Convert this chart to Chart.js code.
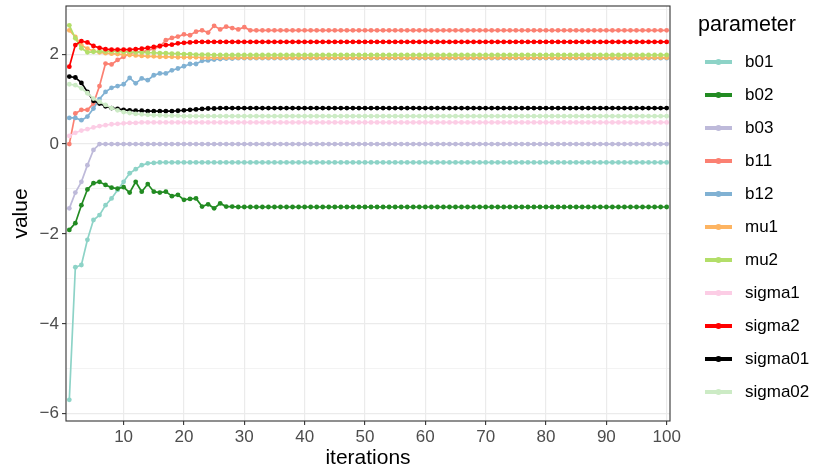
<!DOCTYPE html>
<html><head><meta charset="utf-8">
<script src="https://cdn.jsdelivr.net/npm/chart.js@4.4.1/dist/chart.umd.min.js"></script>
<style>html,body{margin:0;padding:0;background:#fff}#wrap{width:813px;height:470px}</style>
</head><body><div id="wrap"><canvas id="c" width="813" height="470"></canvas></div>
<script>
const iterations = [1,2,3,4,5,6,7,8,9,10,11,12,13,14,15,16,17,18,19,20,
21,22,23,24,25,26,27,28,29,30,31,32,33,34,35,36,37,38,39,40,
41,42,43,44,45,46,47,48,49,50,51,52,53,54,55,56,57,58,59,60,
61,62,63,64,65,66,67,68,69,70,71,72,73,74,75,76,77,78,79,80,
81,82,83,84,85,86,87,88,89,90,91,92,93,94,95,96,97,98,99,100];
const parameters = ['b01','b02','b03','b11','b12','mu1','mu2','sigma1','sigma2','sigma01','sigma02'];

const b01 = [-5.69,-2.74,-2.69,-2.13,-1.69,-1.58,-1.36,-1.21,-1.02,-0.84,
-0.65,-0.56,-0.47,-0.43,-0.42,-0.41,-0.41,-0.41,-0.41,-0.41,
-0.41,-0.41,-0.41,-0.41,-0.41,-0.41,-0.41,-0.41,-0.41,-0.41,
-0.41,-0.41,-0.41,-0.41,-0.41,-0.41,-0.41,-0.41,-0.41,-0.41,
-0.41,-0.41,-0.41,-0.41,-0.41,-0.41,-0.41,-0.41,-0.41,-0.41,
-0.41,-0.41,-0.41,-0.41,-0.41,-0.41,-0.41,-0.41,-0.41,-0.41,
-0.41,-0.41,-0.41,-0.41,-0.41,-0.41,-0.41,-0.41,-0.41,-0.41,
-0.41,-0.41,-0.41,-0.41,-0.41,-0.41,-0.41,-0.41,-0.41,-0.41,
-0.41,-0.41,-0.41,-0.41,-0.41,-0.41,-0.41,-0.41,-0.41,-0.41,
-0.41,-0.41,-0.41,-0.41,-0.41,-0.41,-0.41,-0.41,-0.41,-0.41];
const b02 = [-1.91,-1.76,-1.36,-1.01,-0.87,-0.84,-0.91,-0.97,-0.99,-0.96,
-1.08,-0.84,-1.06,-0.89,-1.06,-1.08,-1.06,-1.16,-1.13,-1.24,
-1.22,-1.21,-1.39,-1.34,-1.43,-1.32,-1.39,-1.39,-1.40,-1.40,
-1.40,-1.40,-1.40,-1.40,-1.40,-1.40,-1.40,-1.40,-1.40,-1.40,
-1.40,-1.40,-1.40,-1.40,-1.40,-1.40,-1.40,-1.40,-1.40,-1.40,
-1.40,-1.40,-1.40,-1.40,-1.40,-1.40,-1.40,-1.40,-1.40,-1.40,
-1.40,-1.40,-1.40,-1.40,-1.40,-1.40,-1.40,-1.40,-1.40,-1.40,
-1.40,-1.40,-1.40,-1.40,-1.40,-1.40,-1.40,-1.40,-1.40,-1.40,
-1.40,-1.40,-1.40,-1.40,-1.40,-1.40,-1.40,-1.40,-1.40,-1.40,
-1.40,-1.40,-1.40,-1.40,-1.40,-1.40,-1.40,-1.40,-1.40,-1.40];
const b03 = [-1.43,-1.08,-0.84,-0.47,-0.13,0,0,0,0,0,
0,0,0,0,0,0,0,0,0,0, 0,0,0,0,0,0,0,0,0,0, 0,0,0,0,0,0,0,0,0,0,
0,0,0,0,0,0,0,0,0,0, 0,0,0,0,0,0,0,0,0,0, 0,0,0,0,0,0,0,0,0,0,
0,0,0,0,0,0,0,0,0,0, 0,0,0,0,0,0,0,0,0,0, 0,0,0,0,0,0,0,0,0,0];
const b11 = [0.00,0.68,0.76,0.76,0.90,1.29,1.79,1.77,1.87,1.94,
2.01,2.05,2.05,2.08,2.12,2.17,2.31,2.36,2.39,2.44,
2.42,2.50,2.53,2.48,2.63,2.55,2.61,2.58,2.55,2.60,
2.53,2.53,2.53,2.53,2.53,2.53,2.53,2.53,2.53,2.53,
2.53,2.53,2.53,2.53,2.53,2.53,2.53,2.53,2.53,2.53,
2.53,2.53,2.53,2.53,2.53,2.53,2.53,2.53,2.53,2.53,
2.53,2.53,2.53,2.53,2.53,2.53,2.53,2.53,2.53,2.53,
2.53,2.53,2.53,2.53,2.53,2.53,2.53,2.53,2.53,2.53,
2.53,2.53,2.53,2.53,2.53,2.53,2.53,2.53,2.53,2.53,
2.53,2.53,2.53,2.53,2.53,2.53,2.53,2.53,2.53,2.53];
const b12 = [0.58,0.58,0.53,0.61,0.79,1.00,1.16,1.25,1.29,1.33,
1.47,1.35,1.46,1.42,1.53,1.57,1.57,1.64,1.68,1.73,
1.78,1.78,1.85,1.86,1.88,1.89,1.90,1.90,1.91,1.91,
1.91,1.91,1.91,1.91,1.91,1.91,1.91,1.91,1.91,1.91,
1.91,1.91,1.91,1.91,1.91,1.91,1.91,1.91,1.91,1.91,
1.91,1.91,1.91,1.91,1.91,1.91,1.91,1.91,1.91,1.91,
1.91,1.91,1.91,1.91,1.91,1.91,1.91,1.91,1.91,1.91,
1.91,1.91,1.91,1.91,1.91,1.91,1.91,1.91,1.91,1.91,
1.91,1.91,1.91,1.91,1.91,1.91,1.91,1.91,1.91,1.91,
1.91,1.91,1.91,1.91,1.91,1.91,1.91,1.91,1.91,1.91];
const mu1 = [2.53,2.38,2.20,2.12,2.07,2.04,2.02,2.01,2.00,1.99,
1.98,1.97,1.96,1.95,1.95,1.94,1.94,1.94,1.93,1.93,
1.93,1.93,1.92,1.92,1.92,1.92,1.92,1.92,1.92,1.92,
1.92,1.92,1.92,1.92,1.92,1.92,1.92,1.92,1.92,1.92,
1.92,1.92,1.92,1.92,1.92,1.92,1.92,1.92,1.92,1.92,
1.92,1.92,1.92,1.92,1.92,1.92,1.92,1.92,1.92,1.92,
1.92,1.92,1.92,1.92,1.92,1.92,1.92,1.92,1.92,1.92,
1.92,1.92,1.92,1.92,1.92,1.92,1.92,1.92,1.92,1.92,
1.92,1.92,1.92,1.92,1.92,1.92,1.92,1.92,1.92,1.92,
1.92,1.92,1.92,1.92,1.92,1.92,1.92,1.92,1.92,1.92];
const mu2 = [2.64,2.35,2.13,2.04,2.05,2.06,2.06,2.06,2.06,2.05,
2.05,2.04,2.04,2.03,2.03,2.02,2.02,2.01,2.01,2.00,
2.00,1.99,1.99,1.99,1.98,1.98,1.98,1.98,1.98,1.98,
1.98,1.98,1.98,1.98,1.98,1.98,1.98,1.98,1.98,1.98,
1.98,1.98,1.98,1.98,1.98,1.98,1.98,1.98,1.98,1.98,
1.98,1.98,1.98,1.98,1.98,1.98,1.98,1.98,1.98,1.98,
1.98,1.98,1.98,1.98,1.98,1.98,1.98,1.98,1.98,1.98,
1.98,1.98,1.98,1.98,1.98,1.98,1.98,1.98,1.98,1.98,
1.98,1.98,1.98,1.98,1.98,1.98,1.98,1.98,1.98,1.98,
1.98,1.98,1.98,1.98,1.98,1.98,1.98,1.98,1.98,1.98];
const sigma1 = [0.18,0.25,0.30,0.33,0.37,0.40,0.42,0.44,0.45,0.46,
0.47,0.47,0.48,0.48,0.48,0.48,0.48,0.48,0.48,0.48,
0.48,0.48,0.48,0.48,0.48,0.48,0.48,0.48,0.48,0.48,
0.48,0.48,0.48,0.48,0.48,0.48,0.48,0.48,0.48,0.48,
0.48,0.48,0.48,0.48,0.48,0.48,0.48,0.48,0.48,0.48,
0.48,0.48,0.48,0.48,0.48,0.48,0.48,0.48,0.48,0.48,
0.48,0.48,0.48,0.48,0.48,0.48,0.48,0.48,0.48,0.48,
0.48,0.48,0.48,0.48,0.48,0.48,0.48,0.48,0.48,0.48,
0.48,0.48,0.48,0.48,0.48,0.48,0.48,0.48,0.48,0.48,
0.48,0.48,0.48,0.48,0.48,0.48,0.48,0.48,0.48,0.48];
const sigma2 = [1.72,2.20,2.29,2.26,2.18,2.14,2.11,2.10,2.10,2.10,
2.10,2.11,2.12,2.14,2.16,2.18,2.20,2.21,2.24,2.25,
2.26,2.27,2.27,2.27,2.27,2.27,2.27,2.27,2.27,2.27,
2.27,2.27,2.27,2.27,2.27,2.27,2.27,2.27,2.27,2.27,
2.27,2.27,2.27,2.27,2.27,2.27,2.27,2.27,2.27,2.27,
2.27,2.27,2.27,2.27,2.27,2.27,2.27,2.27,2.27,2.27,
2.27,2.27,2.27,2.27,2.27,2.27,2.27,2.27,2.27,2.27,
2.27,2.27,2.27,2.27,2.27,2.27,2.27,2.27,2.27,2.27,
2.27,2.27,2.27,2.27,2.27,2.27,2.27,2.27,2.27,2.27,
2.27,2.27,2.27,2.27,2.27,2.27,2.27,2.27,2.27,2.27];
const sigma01 = [1.50,1.48,1.36,1.16,0.96,0.90,0.84,0.80,0.78,0.76,
0.75,0.74,0.74,0.73,0.73,0.73,0.73,0.73,0.74,0.75,
0.76,0.77,0.78,0.79,0.79,0.80,0.80,0.80,0.80,0.80,
0.80,0.80,0.80,0.80,0.80,0.80,0.80,0.80,0.80,0.80,
0.80,0.80,0.80,0.80,0.80,0.80,0.80,0.80,0.80,0.80,
0.80,0.80,0.80,0.80,0.80,0.80,0.80,0.80,0.80,0.80,
0.80,0.80,0.80,0.80,0.80,0.80,0.80,0.80,0.80,0.80,
0.80,0.80,0.80,0.80,0.80,0.80,0.80,0.80,0.80,0.80,
0.80,0.80,0.80,0.80,0.80,0.80,0.80,0.80,0.80,0.80,
0.80,0.80,0.80,0.80,0.80,0.80,0.80,0.80,0.80,0.80];
const sigma02 = [1.33,1.31,1.24,1.13,1.01,0.94,0.87,0.80,0.75,0.71,
0.69,0.67,0.66,0.65,0.64,0.64,0.63,0.63,0.63,0.62,
0.62,0.62,0.62,0.62,0.62,0.62,0.62,0.62,0.62,0.62,
0.62,0.62,0.62,0.62,0.62,0.62,0.62,0.62,0.62,0.62,
0.62,0.62,0.62,0.62,0.62,0.62,0.62,0.62,0.62,0.62,
0.62,0.62,0.62,0.62,0.62,0.62,0.62,0.62,0.62,0.62,
0.62,0.62,0.62,0.62,0.62,0.62,0.62,0.62,0.62,0.62,
0.62,0.62,0.62,0.62,0.62,0.62,0.62,0.62,0.62,0.62,
0.62,0.62,0.62,0.62,0.62,0.62,0.62,0.62,0.62,0.62,
0.62,0.62,0.62,0.62,0.62,0.62,0.62,0.62,0.62,0.62];

const xTickValues = [10,20,30,40,50,60,70,80,90,100];
const yTickValues = [-6,-4,-2,0,2];
const yGridValues = [-6,-5,-4,-3,-2,-1,0,1,2,3];

const seriesValues = [b01,b02,b03,b11,b12,mu1,mu2,sigma1,sigma2,sigma01,sigma02];
const seriesColors = ['#8DD3C7','#228B22','#BEBADA','#FB8072','#80B1D3','#FDB462','#B3DE69','#FCCDE5','#FF0000','#000000','#CCEBC5'];

const FONT = '"Liberation Sans", Arial, Helvetica, sans-serif';

const datasets = parameters.map((p, k) => ({
  label: p,
  data: iterations.map((x, i) => ({x: x, y: seriesValues[k][i]})),
  borderColor: seriesColors[k],
  backgroundColor: seriesColors[k],
  borderWidth: 1.7,
  pointRadius: 2.4,
  pointBorderWidth: 0,
  pointHoverRadius: 2.4,
  tension: 0,
  order: parameters.length - k
}));

const decor = {
  id: 'decor',
  afterDraw(chart) {
    const ctx = chart.ctx, a = chart.chartArea;
    ctx.save();
    ctx.strokeStyle = '#333333';
    ctx.lineWidth = 1.1;
    ctx.strokeRect(a.left, a.top, a.right - a.left, a.bottom - a.top);
    ctx.fillStyle = '#000';
    ctx.textAlign = 'center';
    ctx.textBaseline = 'middle';
    ctx.font = '21px ' + FONT;
    ctx.fillText('iterations', (a.left + a.right) / 2, 458);
    ctx.save();
    ctx.translate(21, (a.top + a.bottom) / 2);
    ctx.rotate(-Math.PI / 2);
    ctx.fillText('value', 0, 0);
    ctx.restore();
    // legend
    ctx.textAlign = 'left';
    ctx.font = '21.5px ' + FONT;
    ctx.fillText('parameter', 698, 25);
    ctx.font = '17px ' + FONT;
    chart.data.datasets.forEach((ds, k) => {
      const y = 62 + 33 * k;
      ctx.strokeStyle = ds.borderColor;
      ctx.lineWidth = 4;
      ctx.beginPath();
      ctx.moveTo(705, y);
      ctx.lineTo(732, y);
      ctx.stroke();
      ctx.fillStyle = ds.borderColor;
      ctx.beginPath();
      ctx.arc(718.5, y, 3, 0, Math.PI * 2);
      ctx.fill();
      ctx.fillStyle = '#000';
      ctx.fillText(ds.label, 745, y);
    });
    ctx.restore();
  }
};

new Chart(document.getElementById('c'), {
  type: 'line',
  data: { datasets: datasets },
  options: {
    responsive: false,
    animation: false,
    devicePixelRatio: 1,
    layout: { padding: { left: 0, right: 143, top: 6, bottom: 0 } },
    plugins: { legend: { display: false }, tooltip: { enabled: false } },
    scales: {
      x: {
        type: 'linear',
        min: 0.45,
        max: 100.55,
        afterBuildTicks: s => { s.ticks = xTickValues.map(v => ({value: v})); },
        afterFit: s => { s.height = 49; s.paddingLeft = 0; s.paddingRight = 0; },
        grid: { color: '#EBEBEB', lineWidth: 1.2, tickLength: 4, tickColor: '#333333', tickWidth: 1.1 },
        border: { display: false },
        ticks: { color: '#4D4D4D', font: { family: FONT, size: 17 }, padding: 2, maxRotation: 0, autoSkip: false }
      },
      y: {
        type: 'linear',
        min: -6.16,
        max: 3.07,
        afterBuildTicks: s => { s.ticks = yGridValues.map(v => ({value: v})); },
        afterFit: s => { s.width = 66; s.paddingTop = 0; s.paddingBottom = 0; },
        grid: {
          color: '#EBEBEB',
          lineWidth: c => (yTickValues.includes(c.tick.value) ? 1.2 : 0.6),
          tickLength: 4,
          tickWidth: 1.1,
          tickColor: c => (yTickValues.includes(c.tick.value) ? '#333333' : 'rgba(0,0,0,0)')
        },
        border: { display: false },
        ticks: {
          color: '#4D4D4D', font: { family: FONT, size: 17 }, padding: 3, autoSkip: false,
          callback: v => (yTickValues.includes(v) ? (v < 0 ? '\u2212' + Math.abs(v) : String(v)) : '')
        }
      }
    }
  },
  plugins: [decor]
});
</script>
</body></html>
